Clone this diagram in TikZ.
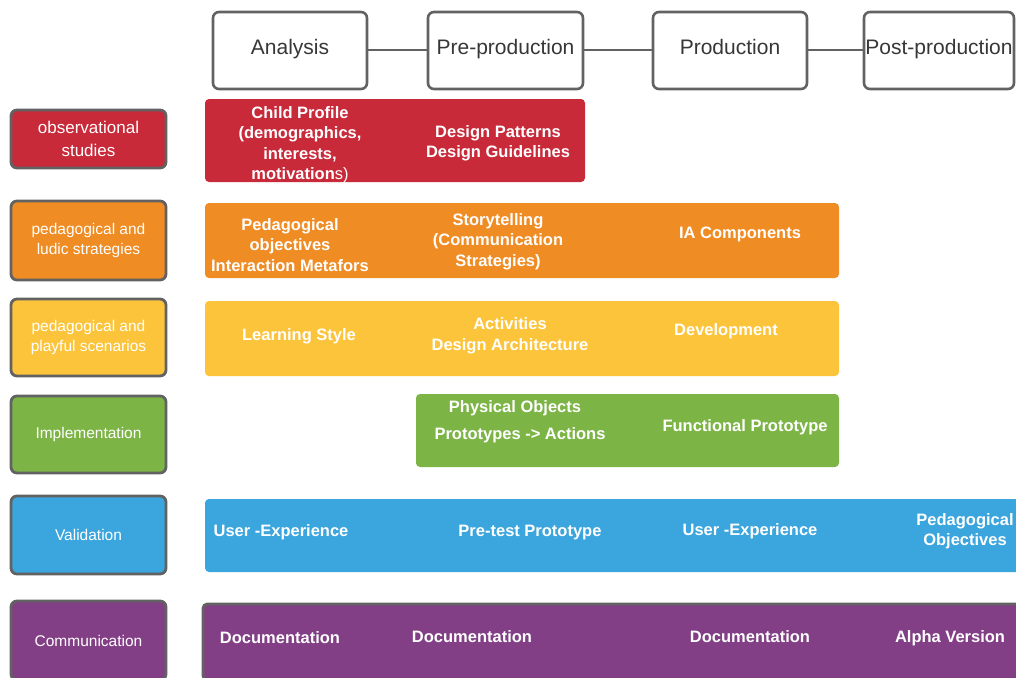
\documentclass[tikz,border=0pt]{standalone}
\usepackage{fontspec}
\setmainfont{Liberation Sans}
\usepackage{tikz}
\usetikzlibrary{positioning}
\definecolor{obsred}{RGB}{200,42,58}
\definecolor{stratorange}{RGB}{240,140,36}
\definecolor{scenyellow}{RGB}{252,196,58}
\definecolor{implgreen}{RGB}{124,180,70}
\definecolor{validblue}{RGB}{59,165,221}
\definecolor{commpurple}{RGB}{130,63,134}
\definecolor{framegray}{RGB}{98,98,98}
\definecolor{headtext}{RGB}{55,55,55}

\begin{document}
\begin{tikzpicture}[x=1pt,y=-1pt,
  head/.style={rectangle,rounded corners=6pt,draw=framegray,line width=2.6pt,fill=white,
    minimum height=77pt,inner sep=0pt,text height=14pt,text depth=6pt,text=headtext,font=\fontsize{21}{25}\selectfont},
  link/.style={draw=framegray,line width=2pt},
  rowlabel/.style={rectangle,rounded corners=6pt,draw=framegray,line width=2.8pt,minimum width=155pt,
    inner sep=0pt,text=white,align=center,font=\fontsize{15.5}{20}\selectfont},
  bar/.style={rectangle,rounded corners=4pt,inner sep=0pt},
  task/.style={text=white,align=center,inner sep=0pt,font=\fontsize{16.5}{20.5}\selectfont\bfseries}]
\useasboundingbox (0,0) rectangle (1016,677);

\node at (290,50.5) [head,minimum width=154pt] (analysis) {Analysis};
\node at (505.5,50.5) [head,minimum width=155pt] (preprod) {Pre-production};
\node at (730,50.5) [head,minimum width=154pt] (prod) {Production};
\node at (939,50.5) [head,minimum width=150pt] (postprod) {Post-production};

\draw[link] (analysis) -- (preprod);
\draw[link] (preprod) -- (prod);
\draw[link] (prod) -- (postprod);

\node at (88.5,139) [rowlabel,fill=obsred,minimum height=58pt,font=\fontsize{17}{23}\selectfont] (obs) {observational\\studies};
\node at (88.5,240.5) [rowlabel,fill=stratorange,minimum height=79pt] (strat) {pedagogical and\\ludic strategies};
\node at (88.5,337.5) [rowlabel,fill=scenyellow,minimum height=77pt] (scen) {pedagogical and\\playful scenarios};
\node at (88.5,434.5) [rowlabel,fill=implgreen,minimum height=77pt] (impl) {Implementation};
\node at (88.5,535) [rowlabel,fill=validblue,minimum height=78pt] (valid) {Validation};
\node at (88.5,640.5) [rowlabel,fill=commpurple,minimum height=79pt] (comm) {Communication};

\node at (395,140.5) [bar,fill=obsred,minimum width=380pt,minimum height=83pt] (obsbar) {};
\node at (522,240.5) [bar,fill=stratorange,minimum width=634pt,minimum height=75pt] (stratbar) {};
\node at (522,338.5) [bar,fill=scenyellow,minimum width=634pt,minimum height=75pt] (scenbar) {};
\node at (627.5,430.5) [bar,fill=implgreen,minimum width=423pt,minimum height=73pt] (implbar) {};
\node at (612.5,535.5) [bar,fill=validblue,minimum width=815pt,minimum height=73pt] (validbar) {};
\node at (612,642) [bar,fill=commpurple,draw=framegray,line width=2.6pt,minimum width=818pt,minimum height=76pt] (commbar) {};

\node at (300,144.5) [task] (profile) {Child Profile\\(demographics,\\interests,\\motivation{\mdseries s)}};
\node at (498,143.5) [task] (patterns) {Design Patterns\\Design Guidelines};

\node at (290,245) [task] (objectives) {Pedagogical\\objectives\\Interaction Metafors};
\node at (498,241.5) [task] (story) {Storytelling\\(Communication\\Strategies)};
\node at (740,234.5) [task] (iacomp) {IA Components};

\node at (299,336) [task] (learning) {Learning Style};
\node at (510,336) [task] (activities) {Activities\\Design Architecture};
\node at (726,331.5) [task] (develop) {Development};

\node at (515,408.5) [task] (physical) {Physical Objects};
\node at (520,435) [task] (actions) {Prototypes -> Actions};
\node at (745,427.5) [task] (functional) {Functional Prototype};

\node at (281,532.5) [task] (userexp) {User -Experience};
\node at (530,532.5) [task] (pretest) {Pre-test Prototype};
\node at (750,531.5) [task] (userexpb) {User -Experience};
\node at (965,531) [task] (pedobj) {Pedagogical\\Objectives};

\node at (280,638) [task] (docua) {Documentation};
\node at (472,637) [task] (docub) {Documentation};
\node at (750,637) [task] (docuc) {Documentation};
\node at (950,638) [task] (alpha) {Alpha Version};
\end{tikzpicture}
\end{document}
